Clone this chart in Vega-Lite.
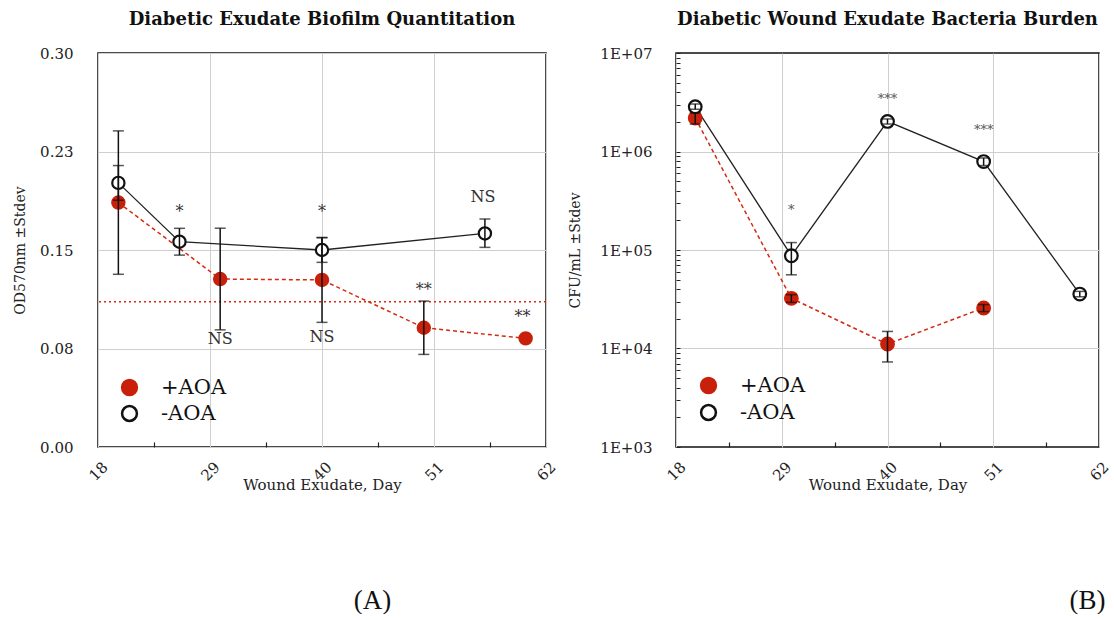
{
  "$schema": "https://vega.github.io/schema/vega-lite/v6.json",
  "padding": {"left": 12, "top": 10, "right": 0, "bottom": 0},
  "background": "white",
  "config": {
    "view": {"stroke": "#111111", "strokeWidth": 1.5},
    "font": "DejaVu Serif",
    "axis": {"labelFont": "DejaVu Serif", "titleFont": "DejaVu Serif", "labelColor": "#222222", "titleColor": "#222222", "titleFontWeight": "normal", "gridColor": "#cfcfcf", "gridWidth": 1, "domain": false, "tickColor": "#222222", "labelOverlap": false, "labelBound": false, "labelFlush": false}
  },
  "datasets": {
    "biofilm": [
      {"day": 20, "group": "+AOA", "mean": 0.1861, "lo": 0.1315, "hi": 0.2407},
      {"day": 30, "group": "+AOA", "mean": 0.1279, "lo": 0.0892, "hi": 0.1666},
      {"day": 40, "group": "+AOA", "mean": 0.1272, "lo": 0.0949, "hi": 0.1595},
      {"day": 50, "group": "+AOA", "mean": 0.0908, "lo": 0.0705, "hi": 0.1111},
      {"day": 60, "group": "+AOA", "mean": 0.0827},
      {"day": 20, "group": "-AOA", "mean": 0.2011, "lo": 0.1879, "hi": 0.2143},
      {"day": 26, "group": "-AOA", "mean": 0.1563, "lo": 0.1461, "hi": 0.1665},
      {"day": 40, "group": "-AOA", "mean": 0.1500, "lo": 0.1406, "hi": 0.1594},
      {"day": 56, "group": "-AOA", "mean": 0.1626, "lo": 0.1520, "hi": 0.1736}
    ],
    "thresholdA": [{"value": 0.1106}],
    "notesA": [
      {"day": 26, "value": 0.179, "label": "*"},
      {"day": 40, "value": 0.179, "label": "*"},
      {"day": 55.8, "value": 0.1907, "label": "NS"},
      {"day": 30, "value": 0.0819, "label": "NS"},
      {"day": 40, "value": 0.0839, "label": "NS"},
      {"day": 50, "value": 0.1195, "label": "**"},
      {"day": 59.7, "value": 0.0992, "label": "**"}
    ],
    "cfu": [
      {"day": 20, "group": "+AOA", "mean": 2190000, "lo": 1900000, "hi": 2480000},
      {"day": 30, "group": "+AOA", "mean": 32300, "lo": 29400, "hi": 35200},
      {"day": 40, "group": "+AOA", "mean": 11100, "lo": 7300, "hi": 14900},
      {"day": 50, "group": "+AOA", "mean": 25800, "lo": 23700, "hi": 27900},
      {"day": 20, "group": "-AOA", "mean": 2850000, "lo": 2680000, "hi": 3040000},
      {"day": 30, "group": "-AOA", "mean": 87500, "lo": 56000, "hi": 119000},
      {"day": 40, "group": "-AOA", "mean": 2020000, "lo": 1900000, "hi": 2140000},
      {"day": 50, "group": "-AOA", "mean": 790000, "lo": 720000, "hi": 860000},
      {"day": 60, "group": "-AOA", "mean": 35700, "lo": 33500, "hi": 38000}
    ],
    "notesB": [
      {"day": 30, "value": 256000, "label": "*"},
      {"day": 40, "value": 3410000, "label": "***"},
      {"day": 50, "value": 1640000, "label": "***"}
    ]
  },
  "spacing": 130,
  "bounds": "flush",
  "resolve": {"scale": {"fill": "independent", "stroke": "independent"}, "legend": {"fill": "independent", "stroke": "independent"}},
  "hconcat": [
    {
      "width": 448,
      "height": 394,
      "title": {"text": "Diabetic Exudate Biofilm Quantitation", "font": "DejaVu Serif", "fontSize": 18, "fontWeight": "bold", "color": "#111111", "anchor": "middle", "frame": "group", "baseline": "alphabetic", "offset": 3},
      "resolve": {"axis": {"x": "independent"}},
      "layer": [
        {
          "data": {"name": "thresholdA"},
          "mark": {"type": "rule", "color": "#d42a10", "strokeDash": [2, 3], "strokeWidth": 1.5},
          "encoding": {"y": {"field": "value", "type": "quantitative", "scale": {"domain": [0, 0.3], "nice": false}}}
        },
        {
          "data": {"name": "biofilm"},
          "transform": [{"filter": "datum.group === '+AOA'"}],
          "mark": {"type": "line", "color": "#d42a10", "strokeDash": [4, 3], "strokeWidth": 1.5},
          "encoding": {
            "x": {"field": "day", "type": "quantitative", "scale": {"domain": [18, 62], "nice": false}, "axis": null},
            "y": {"field": "mean", "type": "quantitative", "scale": {"domain": [0, 0.3], "nice": false}}
          }
        },
        {
          "data": {"name": "biofilm"},
          "transform": [{"filter": "datum.group === '-AOA'"}],
          "mark": {"type": "line", "color": "#222222", "strokeWidth": 1.3},
          "encoding": {
            "x": {"field": "day", "type": "quantitative", "scale": {"domain": [18, 62], "nice": false}, "axis": null},
            "y": {"field": "mean", "type": "quantitative", "scale": {"domain": [0, 0.3], "nice": false}}
          }
        },
        {
          "data": {"name": "biofilm"},
          "mark": {"type": "point", "shape": "circle", "filled": false, "size": 150, "strokeWidth": 2.2, "opacity": 1},
          "encoding": {
            "x": {"field": "day", "type": "quantitative", "scale": {"domain": [18, 62], "nice": false},
              "axis": {"orient": "bottom", "values": [18, 23.5, 29, 34.5, 40, 45.5, 51, 56.5, 62], "labelExpr": "datum.value % 1 === 0 ? datum.label : ''", "labelAngle": -45, "labelAlign": "center", "labelBaseline": "middle", "labelPadding": 29, "labelFontSize": 15, "tickSize": -5, "tickWidth": 1.2, "tickOpacity": {"condition": {"test": "datum.value % 1 === 0", "value": 0}, "value": 1}, "grid": true, "gridOpacity": {"condition": {"test": "datum.value % 1 === 0", "value": 1}, "value": 0}, "title": "Wound Exudate, Day", "titleFontSize": 15, "titleY": 37, "titleBaseline": "middle"}},
            "y": {"field": "mean", "type": "quantitative", "scale": {"domain": [0, 0.3], "nice": false},
              "axis": {"values": [0, 0.075, 0.15, 0.225, 0.3], "labelExpr": "format(datum.value + 0.0001, '.2f')", "ticks": false, "labelPadding": 25, "labelFontSize": 15, "grid": true, "title": "OD570nm ±Stdev", "titleFontSize": 14, "titleX": -78, "titleBaseline": "middle", "titleAngle": -90}},
            "fill": {"field": "group", "type": "nominal", "scale": {"domain": ["+AOA", "-AOA"], "range": ["#c8200a", "#ffffff"]},
              "legend": {"title": null, "orient": "bottom-left", "offset": 21, "labelFont": "DejaVu Serif", "labelFontSize": 21, "labelColor": "#111111", "symbolSize": 220, "symbolStrokeWidth": 2.5, "symbolType": "circle", "labelOffset": 21, "rowPadding": 1}},
            "stroke": {"field": "group", "type": "nominal", "scale": {"domain": ["+AOA", "-AOA"], "range": ["#c8200a", "#111111"]},
              "legend": {"title": null, "orient": "bottom-left", "offset": 21, "labelFont": "DejaVu Serif", "labelFontSize": 21, "labelColor": "#111111", "symbolSize": 220, "symbolStrokeWidth": 2.5, "symbolType": "circle", "labelOffset": 21, "rowPadding": 1}}
          }
        },
        {
          "data": {"name": "biofilm"},
          "mark": {"type": "rule", "color": "#111111", "strokeWidth": 1.5},
          "encoding": {
            "x": {"field": "day", "type": "quantitative", "scale": {"domain": [18, 62], "nice": false},
              "axis": {"orient": "top", "title": "(A)", "labels": false, "ticks": false, "domain": false, "grid": false, "titleFont": "Liberation Serif", "titleFontSize": 27, "titleFontWeight": "normal", "titleColor": "#111111", "titleX": 274, "titleY": 547, "titleBaseline": "middle", "titleAlign": "center", "titleAngle": 0}},
            "y": {"field": "lo", "type": "quantitative", "scale": {"domain": [0, 0.3], "nice": false}},
            "y2": {"field": "hi"}
          }
        },
        {
          "data": {"name": "biofilm"},
          "mark": {"type": "tick", "orient": "horizontal", "color": "#111111", "size": 11, "thickness": 1.5},
          "encoding": {
            "x": {"field": "day", "type": "quantitative", "scale": {"domain": [18, 62], "nice": false}, "axis": null},
            "y": {"field": "lo", "type": "quantitative", "scale": {"domain": [0, 0.3], "nice": false}}
          }
        },
        {
          "data": {"name": "biofilm"},
          "mark": {"type": "tick", "orient": "horizontal", "color": "#111111", "size": 11, "thickness": 1.5},
          "encoding": {
            "x": {"field": "day", "type": "quantitative", "scale": {"domain": [18, 62], "nice": false}, "axis": null},
            "y": {"field": "hi", "type": "quantitative", "scale": {"domain": [0, 0.3], "nice": false}}
          }
        },
        {
          "data": {"name": "notesA"},
          "mark": {"type": "text", "font": "DejaVu Serif", "fontSize": 16, "color": "#333333", "align": "center", "baseline": "middle"},
          "encoding": {
            "x": {"field": "day", "type": "quantitative", "scale": {"domain": [18, 62], "nice": false}, "axis": null},
            "y": {"field": "value", "type": "quantitative", "scale": {"domain": [0, 0.3], "nice": false}},
            "text": {"field": "label", "type": "nominal"}
          }
        }
      ]
    },
    {
      "width": 423,
      "height": 394,
      "title": {"text": "Diabetic Wound Exudate Bacteria Burden", "font": "DejaVu Serif", "fontSize": 18, "fontWeight": "bold", "color": "#111111", "anchor": "middle", "frame": "group", "baseline": "alphabetic", "offset": 3},
      "resolve": {"axis": {"x": "independent"}},
      "layer": [
        {
          "data": {"name": "cfu"},
          "transform": [{"filter": "datum.group === '+AOA'"}],
          "mark": {"type": "line", "color": "#d42a10", "strokeDash": [4, 3], "strokeWidth": 1.5},
          "encoding": {
            "x": {"field": "day", "type": "quantitative", "scale": {"domain": [18, 62], "nice": false}, "axis": null},
            "y": {"field": "mean", "type": "quantitative", "scale": {"type": "log", "domain": [1000, 10000000], "nice": false}}
          }
        },
        {
          "data": {"name": "cfu"},
          "transform": [{"filter": "datum.group === '-AOA'"}],
          "mark": {"type": "line", "color": "#222222", "strokeWidth": 1.3},
          "encoding": {
            "x": {"field": "day", "type": "quantitative", "scale": {"domain": [18, 62], "nice": false}, "axis": null},
            "y": {"field": "mean", "type": "quantitative", "scale": {"type": "log", "domain": [1000, 10000000], "nice": false}}
          }
        },
        {
          "data": {"name": "cfu"},
          "mark": {"type": "point", "shape": "circle", "filled": false, "size": 160, "strokeWidth": 2.2, "opacity": 1},
          "encoding": {
            "x": {"field": "day", "type": "quantitative", "scale": {"domain": [18, 62], "nice": false},
              "axis": {"orient": "bottom", "values": [18, 23.5, 29, 34.5, 40, 45.5, 51, 56.5, 62], "labelExpr": "datum.value % 1 === 0 ? datum.label : ''", "labelAngle": -45, "labelAlign": "center", "labelBaseline": "middle", "labelPadding": 29, "labelFontSize": 15, "tickSize": -5, "tickWidth": 1.2, "tickOpacity": {"condition": {"test": "datum.value % 1 === 0", "value": 0}, "value": 1}, "grid": true, "gridOpacity": {"condition": {"test": "datum.value % 1 === 0", "value": 1}, "value": 0}, "title": "Wound Exudate, Day", "titleFontSize": 15, "titleY": 37, "titleBaseline": "middle"}},
            "y": {"field": "mean", "type": "quantitative", "scale": {"type": "log", "domain": [1000, 10000000], "nice": false},
              "axis": {"values": [1000, 2000, 3000, 4000, 5000, 6000, 7000, 8000, 9000, 10000, 20000, 30000, 40000, 50000, 60000, 70000, 80000, 90000, 100000, 200000, 300000, 400000, 500000, 600000, 700000, 800000, 900000, 1000000, 2000000, 3000000, 4000000, 5000000, 6000000, 7000000, 8000000, 9000000, 10000000], "labelExpr": "indexof([1000, 10000, 100000, 1000000, 10000000], datum.value) >= 0 ? '1E+0' + round(log(datum.value) / LN10) : ''", "tickSize": -4, "tickWidth": 1, "labelPadding": 28, "labelFontSize": 15, "grid": true, "gridOpacity": {"condition": {"test": "indexof([10000, 100000, 1000000], datum.value) >= 0", "value": 1}, "value": 0}, "title": "CFU/mL ±Stdev", "titleFontSize": 14, "titleX": -101, "titleBaseline": "middle", "titleAngle": -90}},
            "fill": {"field": "group", "type": "nominal", "scale": {"domain": ["+AOA", "-AOA"], "range": ["#c8200a", "#ffffff"]},
              "legend": {"title": null, "orient": "bottom-left", "offset": 22, "labelFont": "DejaVu Serif", "labelFontSize": 21, "labelColor": "#111111", "symbolSize": 220, "symbolStrokeWidth": 2.5, "symbolType": "circle", "labelOffset": 21, "rowPadding": 2}},
            "stroke": {"field": "group", "type": "nominal", "scale": {"domain": ["+AOA", "-AOA"], "range": ["#c8200a", "#111111"]},
              "legend": {"title": null, "orient": "bottom-left", "offset": 22, "labelFont": "DejaVu Serif", "labelFontSize": 21, "labelColor": "#111111", "symbolSize": 220, "symbolStrokeWidth": 2.5, "symbolType": "circle", "labelOffset": 21, "rowPadding": 2}}
          }
        },
        {
          "data": {"name": "cfu"},
          "mark": {"type": "rule", "color": "#111111", "strokeWidth": 1.5},
          "encoding": {
            "x": {"field": "day", "type": "quantitative", "scale": {"domain": [18, 62], "nice": false},
              "axis": {"orient": "top", "title": "(B)", "labels": false, "ticks": false, "domain": false, "grid": false, "titleFont": "Liberation Serif", "titleFontSize": 27, "titleFontWeight": "normal", "titleColor": "#111111", "titleX": 411, "titleY": 547, "titleBaseline": "middle", "titleAlign": "center", "titleAngle": 0}},
            "y": {"field": "lo", "type": "quantitative", "scale": {"type": "log", "domain": [1000, 10000000], "nice": false}},
            "y2": {"field": "hi"}
          }
        },
        {
          "data": {"name": "cfu"},
          "mark": {"type": "tick", "orient": "horizontal", "color": "#111111", "size": 11, "thickness": 1.5},
          "encoding": {
            "x": {"field": "day", "type": "quantitative", "scale": {"domain": [18, 62], "nice": false}, "axis": null},
            "y": {"field": "lo", "type": "quantitative", "scale": {"type": "log", "domain": [1000, 10000000], "nice": false}}
          }
        },
        {
          "data": {"name": "cfu"},
          "mark": {"type": "tick", "orient": "horizontal", "color": "#111111", "size": 11, "thickness": 1.5},
          "encoding": {
            "x": {"field": "day", "type": "quantitative", "scale": {"domain": [18, 62], "nice": false}, "axis": null},
            "y": {"field": "hi", "type": "quantitative", "scale": {"type": "log", "domain": [1000, 10000000], "nice": false}}
          }
        },
        {
          "data": {"name": "notesB"},
          "mark": {"type": "text", "font": "DejaVu Serif", "fontSize": 13, "color": "#555555", "align": "center", "baseline": "middle"},
          "encoding": {
            "x": {"field": "day", "type": "quantitative", "scale": {"domain": [18, 62], "nice": false}, "axis": null},
            "y": {"field": "value", "type": "quantitative", "scale": {"type": "log", "domain": [1000, 10000000], "nice": false}},
            "text": {"field": "label", "type": "nominal"}
          }
        }
      ]
    }
  ]
}
